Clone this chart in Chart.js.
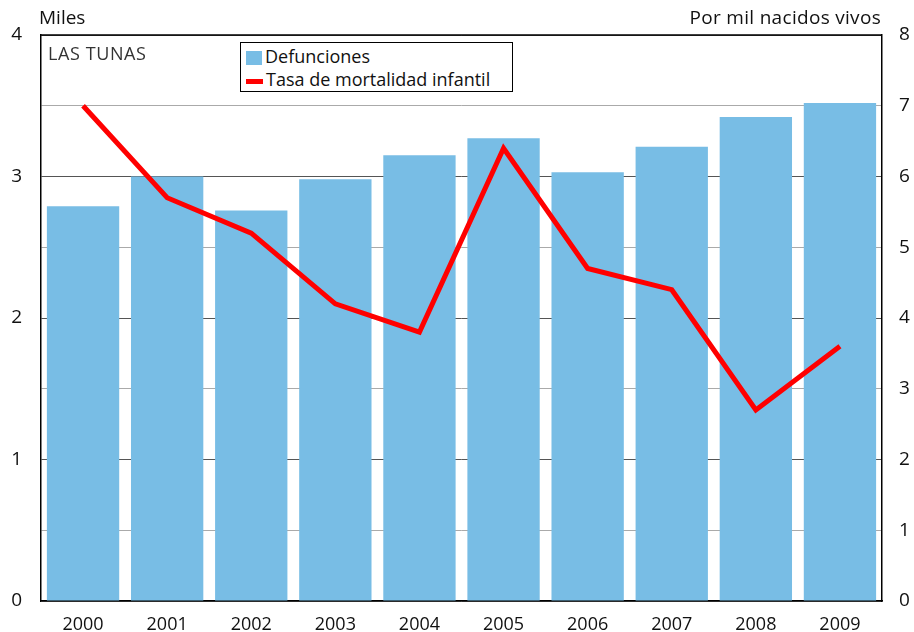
<!DOCTYPE html>
<html>
<head>
<meta charset="utf-8">
<script src="https://cdn.jsdelivr.net/npm/chart.js@4"></script>
<style>
  body { margin: 0; background: #fff; }
  #wrap { position: relative; width: 914px; height: 632px; font-family: "Open Sans", sans-serif; color: #111; }
  #chart { position: absolute; left: 0; top: 0; }
  .lbl { position: absolute; font-size: 19px; white-space: nowrap; }
  #legend { position: absolute; left: 240px; top: 42px; width: 271px; height: 48px; border: 1px solid #000; background: #fff; }
  .row { position: absolute; left: 5px; font-size: 18px; white-space: nowrap; line-height: 22px; }
  .swatch { display: inline-block; vertical-align: middle; margin-right: 3px; }
</style>
</head>
<body>
<div id="wrap">
  <canvas id="chart" width="914" height="632"></canvas>
  <div class="lbl" style="left:39px; top:4px;">Miles</div>
  <div class="lbl" style="right:33px; top:4px; letter-spacing:0.3px;">Por mil nacidos vivos</div>
  <div class="lbl" style="left:48px; top:41px; font-size:18px; color:#333; letter-spacing:0.6px;">LAS TUNAS</div>
  <div id="legend">
    <div class="row" style="top:2px;"><span class="swatch" style="width:16px;height:14px;background:#78BDE5;"></span>Defunciones</div>
    <div class="row" style="top:25px;"><span class="swatch" style="width:17px;height:5px;background:#ff0000;"></span>Tasa de mortalidad infantil</div>
  </div>
</div>
<script>
// Data
const years = ['2000', '2001', '2002', '2003', '2004', '2005', '2006', '2007', '2008', '2009'];
const defunciones = [2.79, 3.0, 2.76, 2.98, 3.15, 3.27, 3.03, 3.21, 3.42, 3.52];   // miles
const tasaMortalidad = [7.0, 5.7, 5.2, 4.2, 3.8, 6.4, 4.7, 4.4, 2.7, 3.6];        // por mil nacidos vivos

// Box around the plot area (top edge is not drawn by the axes)
const frameBox = {
  id: 'frameBox',
  afterDraw(chart) {
    const { ctx, chartArea: a } = chart;
    ctx.save();
    ctx.strokeStyle = '#000';
    ctx.lineWidth = 1.5;
    ctx.beginPath();
    ctx.moveTo(a.left, a.top);
    ctx.lineTo(a.right, a.top);
    ctx.stroke();
    ctx.restore();
  }
};

const tickFont = { family: '"Open Sans", sans-serif', size: 18 };

new Chart(document.getElementById('chart'), {
  data: {
    labels: years,
    datasets: [
      {
        type: 'line',
        label: 'Tasa de mortalidad infantil',
        data: tasaMortalidad,
        yAxisID: 'y2',
        borderColor: '#ff0000',
        borderWidth: 5,
        pointRadius: 0,
        tension: 0,
        order: 0
      },
      {
        type: 'bar',
        label: 'Defunciones',
        data: defunciones,
        yAxisID: 'y',
        backgroundColor: '#78BDE5',
        barPercentage: 0.86,
        categoryPercentage: 1,
        order: 1
      }
    ]
  },
  options: {
    responsive: false,
    animation: false,
    layout: { padding: { top: 35 } },
    plugins: { legend: { display: false }, tooltip: { enabled: false } },
    scales: {
      x: {
        grid: { display: false },
        border: { color: '#000', width: 1.5 },
        ticks: { color: '#111', font: tickFont, padding: 5 },
        afterFit(scale) { scale.height = 31; }
      },
      y: {
        position: 'left',
        min: 0,
        max: 4,
        ticks: {
          stepSize: 0.5,
          color: '#111',
          font: { ...tickFont, size: 19 },
          padding: 19,
          callback: v => (Number.isInteger(v) ? v : '')
        },
        grid: {
          drawTicks: false,
          color: ctx => (Number.isInteger(ctx.tick.value) ? '#555' : '#aaa'),
          lineWidth: 1
        },
        border: { color: '#000', width: 1.5 },
        afterFit(scale) { scale.width = 41; }
      },
      y2: {
        position: 'right',
        min: 0,
        max: 8,
        ticks: { stepSize: 1, color: '#111', font: { ...tickFont, size: 19 }, padding: 17 },
        grid: { drawOnChartArea: false, drawTicks: false },
        border: { color: '#000', width: 1.5 },
        afterFit(scale) { scale.width = 32; }
      }
    }
  },
  plugins: [frameBox]
});
</script>
</body>
</html>
